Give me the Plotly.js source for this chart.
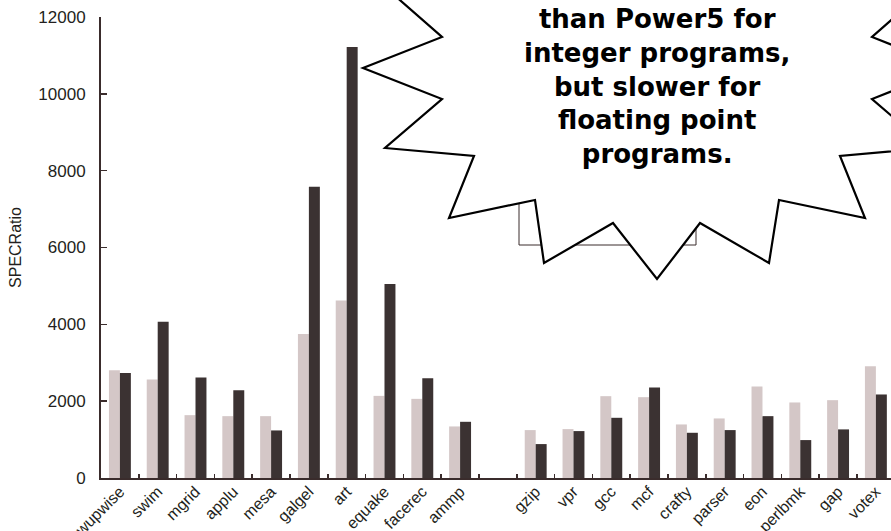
<!DOCTYPE html>
<html>
<head>
<meta charset="utf-8">
<script src="https://cdn.plot.ly/plotly-3.0.1.min.js"></script>
<style>html,body{margin:0;padding:0;background:#fff;}#chart{width:891px;height:531px;}</style>
</head>
<body>
<div id="chart"></div>
<script>
// ---- data ----
const fpBenchmarks  = ['wupwise','swim','mgrid','applu','mesa','galgel','art','equake','facerec','ammp'];
const intBenchmarks = ['gzip','vpr','gcc','mcf','crafty','parser','eon','perlbmk','gap','votex'];
const gapCategory   = [' '];
const fpLight  = [2805, 2563, 1636, 1610, 1610, 3748, 4623, 2138, 2060, 1342];
const fpDark   = [2735, 4070, 2615, 2286, 1238, 7584, 11221, 5048, 2597, 1463];
const intLight = [1247, 1273, 2130, 2104, 1394, 1550, 2381, 1966, 2026, 2909];
const intDark  = [ 883, 1221, 1567, 2355, 1177, 1247, 1610,  987, 1265, 2174];
const yTicks   = [0, 2000, 4000, 6000, 8000, 10000, 12000];
const calloutLines = ['than Power5 for', 'integer programs,', 'but slower for', 'floating point', 'programs.'];

// ---- build ----
const cats = fpBenchmarks.concat(gapCategory, intBenchmarks);
const lightVals = fpLight.concat([null], intLight);
const darkVals  = fpDark.concat([null], intDark);

const W = 891, H = 531;
const M = {l: 101, r: 0, t: 17, b: 53};
const plotW = W - M.l - M.r, plotH = H - M.t - M.b;
const px = x => (x - M.l) / plotW;
const py = y => (H - M.b - y) / plotH;

// callout (decoration) outline, in screen pixels
const burst = [[377,-20],[442,37],[363,68],[442,99],[385,148],[474,156],[449,218],[535,200],[544,263],
  [613,223],[657,279],[700,223],[769,263],[779,200],[865,218],[840,156],[929,148],[872,99],[951,68],
  [872,37],[937,-20],[937,-80],[377,-80]];
const burstPath = 'M ' + burst.map(p => px(p[0]).toFixed(5) + ',' + py(p[1]).toFixed(5)).join(' L ') + ' Z';

const axisColor = '#3a2c2c';
const textColor = '#231f20';

const traces = [
  {type: 'bar', name: 'Comparison CPU', x: cats, y: lightVals, marker: {color: '#d4c7c7', line: {width: 0}}, hoverinfo: 'x+y'},
  {type: 'bar', name: 'Power5', x: cats, y: darkVals, marker: {color: '#3b3232', line: {width: 0}}, hoverinfo: 'x+y'}
];

const layout = {
  width: W, height: H,
  margin: M,
  paper_bgcolor: '#ffffff', plot_bgcolor: '#ffffff',
  showlegend: false,
  barmode: 'group', bargap: 0.42, bargroupgap: 0,
  font: {family: 'Liberation Sans, Arial, sans-serif', color: textColor},
  xaxis: {
    type: 'category', categoryorder: 'array', categoryarray: cats,
    range: [-0.5, 20.4], tickson: 'boundaries', ticks: 'inside', ticklen: 4, tickwidth: 1.5, tickcolor: axisColor,
    showline: true, linecolor: axisColor, linewidth: 2, showgrid: false, zeroline: false,
    tickangle: -45, tickfont: {size: 16, color: textColor}, ticklabelstandoff: -4
  },
  yaxis: {
    range: [0, 12000], tickmode: 'array', tickvals: yTicks, ticktext: yTicks.map(String),
    ticks: 'inside', ticklen: 6, tickwidth: 1.5, tickcolor: axisColor,
    showline: true, linecolor: axisColor, linewidth: 2, showgrid: false, zeroline: false,
    tickfont: {size: 17, color: textColor}, ticklabelstandoff: 10,
    title: {text: 'SPECRatio', font: {size: 16, color: textColor}, standoff: 13}
  },
  shapes: [
    {type: 'rect', xref: 'paper', yref: 'paper', x0: px(519), x1: px(696), y0: py(245), y1: py(150),
      line: {color: axisColor, width: 1}, fillcolor: 'rgba(0,0,0,0)', layer: 'above'},
    {type: 'path', xref: 'paper', yref: 'paper', path: burstPath,
      fillcolor: '#ffffff', line: {color: '#000000', width: 2.2}, layer: 'above'}
  ],
  annotations: [{
    xref: 'paper', yref: 'paper', x: px(657), y: py(86), xanchor: 'center', yanchor: 'middle',
    text: calloutLines.join('<br>'), showarrow: false, align: 'center',
    font: {family: 'DejaVu Sans, sans-serif', size: 26, weight: 'bold', color: '#000000'}
  }]
};

Plotly.newPlot('chart', traces, layout, {displayModeBar: false, staticPlot: true});
</script>
</body>
</html>
